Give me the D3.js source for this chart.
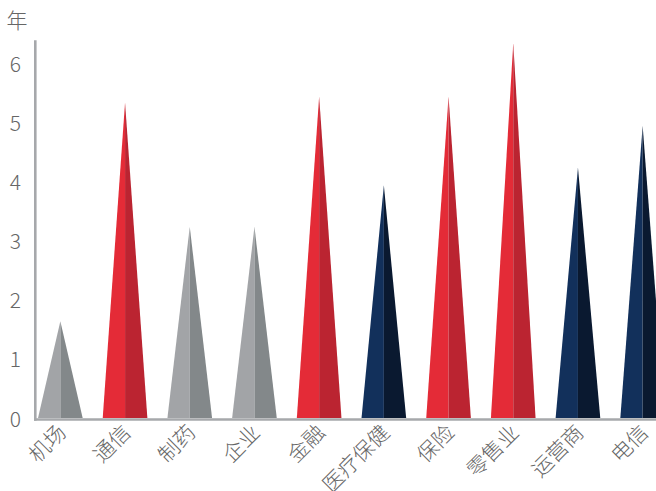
<!DOCTYPE html>
<html>
<head>
<meta charset="utf-8">
<script src="https://cdn.jsdelivr.net/npm/d3@7/dist/d3.min.js"></script>
<style>
  html, body { margin: 0; padding: 0; background: #fff; }
  svg { display: block; }
  text { font-family: "Noto Sans CJK SC", "Noto Sans", sans-serif; }
</style>
</head>
<body>
<svg id="chart" width="656" height="491"></svg>
<script>
// Average tenure (years) by sector
const categories = ["机场", "通信", "制药", "企业", "金融", "医疗保健", "保险", "零售业", "运营商", "电信"];
const values = [1.65, 5.35, 3.25, 3.25, 5.45, 3.95, 5.45, 6.35, 4.25, 4.95];
const groups = ["gray", "red", "gray", "gray", "red", "navy", "red", "red", "navy", "navy"];
const yTicks = [0, 1, 2, 3, 4, 5, 6];
const yUnit = "年";

// light / shaded half of each spike
const palette = {
  gray: ["#a2a4a7", "#83888a"],
  red:  ["#e42b37", "#bb2431"],
  navy: ["#12305b", "#0a1930"]
};

const svg = d3.select("#chart");
const axisColor = "#a6a8ab";
const textColor = "#666666";

const x = d3.scalePoint().domain(categories).range([28, 675]).padding(0.5);
const y = d3.scaleLinear().domain([0, 6.4]).range([419, 40.3]);
const barW = x.step() * 0.69;

const data = categories.map((c, i) => ({ cat: c, value: values[i], group: groups[i] }));

const tri = d3.line();
const bars = svg.append("g");
data.forEach(d => {
  const cx = x(d.cat), base = y(0) - 1, top = y(d.value);
  bars.append("path")
    .attr("d", tri([[cx - barW / 2, base], [cx, top], [cx, base]]) + "Z")
    .attr("fill", palette[d.group][0]);
  bars.append("path")
    .attr("d", tri([[cx, base], [cx, top], [cx + barW / 2, base]]) + "Z")
    .attr("fill", palette[d.group][1]);
});

// axes
svg.append("line")
  .attr("x1", 35.3).attr("x2", 35.3)
  .attr("y1", y(6.4)).attr("y2", y(0) + 1.8)
  .attr("stroke", axisColor).attr("stroke-width", 2.6);
svg.append("line")
  .attr("x1", 34).attr("x2", 656)
  .attr("y1", y(0) + 0.5).attr("y2", y(0) + 0.5)
  .attr("stroke", axisColor).attr("stroke-width", 2.6);

// y tick labels
svg.append("g").selectAll("text")
  .data(yTicks).join("text")
  .attr("x", 21).attr("y", d => y(d))
  .attr("dy", "0.36em")
  .attr("text-anchor", "end")
  .attr("font-size", 21)
  .attr("font-weight", 300)
  .attr("fill", textColor)
  .text(d => d);

// unit label
svg.append("text")
  .attr("x", 17).attr("y", 28)
  .attr("text-anchor", "middle")
  .attr("font-size", 21)
  .attr("font-weight", 300)
  .attr("fill", textColor)
  .text(yUnit);

// category labels, rotated
svg.append("g").selectAll("text")
  .data(categories).join("text")
  .attr("transform", d => `translate(${x(d) + 7},434) rotate(-45)`)
  .attr("text-anchor", "end")
  .attr("font-size", 21)
  .attr("font-weight", 300)
  .attr("fill", textColor)
  .text(d => d);
</script>
</body>
</html>
